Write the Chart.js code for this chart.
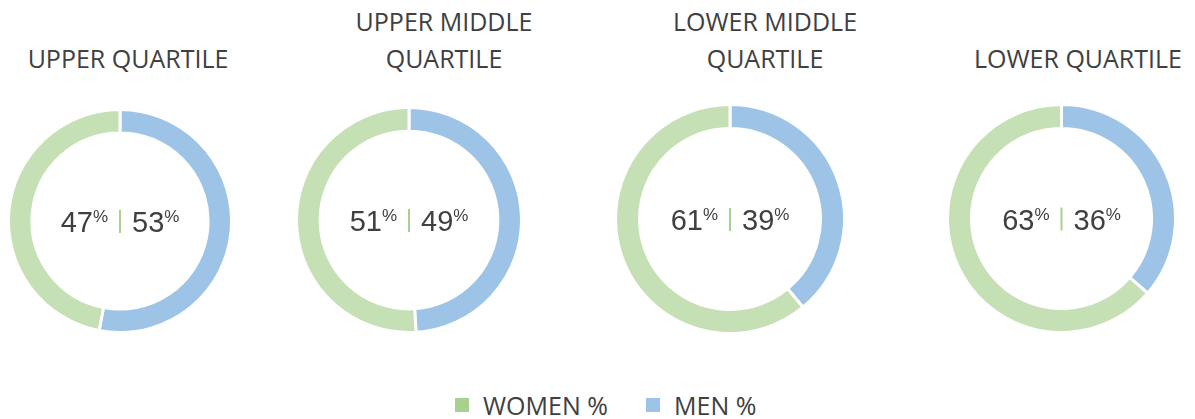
<!DOCTYPE html>
<html>
<head>
<meta charset="utf-8">
<script src="https://cdn.jsdelivr.net/npm/chart.js@4/dist/chart.umd.min.js"></script>
<style>
  html, body { margin: 0; padding: 0; background: #ffffff; }
  body { width: 1195px; height: 419px; position: relative; overflow: hidden; font-family: "Open Sans", sans-serif; color: #404040; }
  .title { position: absolute; width: 320px; text-align: center; font-size: 25px; line-height: 37px; white-space: nowrap; }
  canvas { position: absolute; }
  .lg-box { position: absolute; width: 14px; height: 14px; }
  .lg-text { position: absolute; font-size: 25px; line-height: 37px; white-space: nowrap; }
</style>
</head>
<body>
<script>
// ---- data ----
const categories = ['UPPER QUARTILE', 'UPPER MIDDLE QUARTILE', 'LOWER MIDDLE QUARTILE', 'LOWER QUARTILE'];
const titleLines = [['UPPER QUARTILE'], ['UPPER MIDDLE', 'QUARTILE'], ['LOWER MIDDLE', 'QUARTILE'], ['LOWER QUARTILE']];
const seriesLabels = ['WOMEN %', 'MEN %'];
const womenPct = [47, 51, 61, 63];
const menPct = [53, 49, 39, 36];

// ---- styles / layout ----
const womenColor = '#c5e0b4';
const menColor = '#9dc3e6';
const womenLegendColor = '#a9d18e';
const menLegendColor = '#9dc3e6';
const ringCenters = [[120, 221], [409, 220], [730, 219], [1061, 218]];
const canvasSizes = [226, 228, 232, 231];
const titleCenters = [128, 444, 765, 1078];

const centerTextPlugin = {
  id: 'centerText',
  afterDraw(chart, args, opts) {
    const ctx = chart.ctx;
    const a = chart.chartArea;
    const cx = (a.left + a.right) / 2;
    const cy = (a.top + a.bottom) / 2;
    const big = '29px "Liberation Sans", Arial, sans-serif';
    const small = '17px "Liberation Sans", Arial, sans-serif';
    ctx.save();
    ctx.fillStyle = '#404040';
    ctx.textBaseline = 'alphabetic';
    // left value (women)
    ctx.font = small;
    const pw = ctx.measureText('%').width;
    ctx.textAlign = 'right';
    ctx.fillText('%', cx - 12, cy + 1);
    ctx.font = big;
    ctx.fillText(String(opts.left), cx - 12 - pw, cy + 11);
    // right value (men)
    ctx.textAlign = 'left';
    ctx.font = big;
    const rs = String(opts.right);
    const nw = ctx.measureText(rs).width;
    ctx.fillText(rs, cx + 12, cy + 11);
    ctx.font = small;
    ctx.fillText('%', cx + 12 + nw, cy + 1);
    // separator
    ctx.fillStyle = womenLegendColor;
    ctx.fillRect(cx - 1, cy - 11, 2, 23);
    ctx.restore();
  }
};

categories.forEach((cat, i) => {
  // title
  const t = document.createElement('div');
  t.className = 'title';
  const lines = titleLines[i];
  t.style.left = (titleCenters[i] - 160) + 'px';
  t.style.top = (lines.length === 2 ? 3 : 40) + 'px';
  t.innerHTML = lines.join('<br>');
  document.body.appendChild(t);

  // chart canvas
  const size = canvasSizes[i];
  const c = document.createElement('canvas');
  c.width = size; c.height = size;
  c.style.width = size + 'px'; c.style.height = size + 'px';
  c.style.left = (ringCenters[i][0] - size / 2) + 'px';
  c.style.top = (ringCenters[i][1] - size / 2) + 'px';
  document.body.appendChild(c);

  new Chart(c.getContext('2d'), {
    type: 'doughnut',
    data: {
      labels: [seriesLabels[1], seriesLabels[0]],
      datasets: [{
        data: [menPct[i], womenPct[i]],
        backgroundColor: [menColor, womenColor],
        borderColor: '#ffffff',
        borderWidth: 3,
        hoverOffset: 0
      }]
    },
    options: {
      responsive: false,
      animation: false,
      devicePixelRatio: 1,
      cutout: '79%',
      rotation: 0,
      layout: { padding: 0 },
      plugins: {
        legend: { display: false },
        tooltip: { enabled: false },
        centerText: { left: womenPct[i], right: menPct[i] }
      }
    },
    plugins: [centerTextPlugin]
  });
});

// legend
const legendItems = [
  { label: seriesLabels[0], color: womenLegendColor, box: 455, text: 483 },
  { label: seriesLabels[1], color: menLegendColor, box: 646, text: 674 }
];
legendItems.forEach(it => {
  const b = document.createElement('div');
  b.className = 'lg-box';
  b.style.left = it.box + 'px';
  b.style.top = '398px';
  b.style.background = it.color;
  document.body.appendChild(b);
  const s = document.createElement('div');
  s.className = 'lg-text';
  s.style.left = it.text + 'px';
  s.style.top = '387px';
  s.textContent = it.label;
  document.body.appendChild(s);
});
</script>
</body>
</html>
